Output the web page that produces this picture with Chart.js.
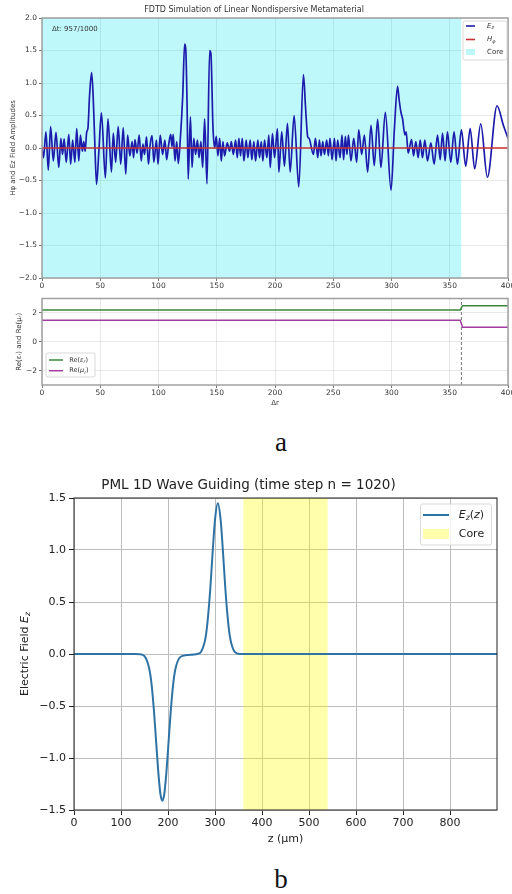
<!DOCTYPE html>
<html>
<head>
<meta charset="utf-8">
<script src="https://cdn.jsdelivr.net/npm/chart.js@4.4.1/dist/chart.umd.min.js"></script>
<style>
  html, body { margin: 0; padding: 0; background: #fff; overflow: hidden; }
  #page { position: relative; width: 512px; height: 894px; overflow: hidden; background: #fff; }
  canvas { position: absolute; left: 0; }
  .tag { position: absolute; left: 256px; width: 50px; text-align: center; font: 27px/27px "Liberation Serif", serif; color: #111; }
</style>
</head>
<body>
<div id="page">
  <canvas id="fdtd" width="550" height="292" style="top:0"></canvas>
  <canvas id="material" width="550" height="115" style="top:292px"></canvas>
  <div class="tag" style="top:429px">a</div>
  <canvas id="pml" width="571" height="376" style="top:470px"></canvas>
  <div class="tag" style="top:866px">b</div>
</div>
<script>
// top panel: field snapshot (extrema)
const ezX = [0, 1.3, 3.4, 5.4, 7.4, 9.7, 12, 14.4, 16.2, 17.6, 19, 20.8, 23, 24.6, 26.3, 28.2, 29.8, 31.6, 33, 34.6,
  35.8, 37, 38.4, 39.4, 40.8, 42.6, 43.9, 45.2, 46.8, 48.8, 51, 54.4, 56.6, 59.6, 61.2, 63.2, 65.4, 67.6, 69.7, 71.9, 73.5,
  75.4, 77.4, 78.6, 79.8, 81.6, 83.4, 85.2, 86.6, 88, 89.7, 91.4, 92.8, 94.5, 96, 98.2, 99.6, 101.5, 103.5, 105.5, 107,
  108.7, 110.5, 111.6, 112.6, 114.2, 115.6, 117, 118.6, 120.8, 122.4, 123.4, 124.5, 125.5, 127.4, 128.8, 130.3, 131.8, 133.4, 134.8, 136.4, 137.9,
  139.6, 141.6, 143.9, 145, 146.8, 148.2, 149.6, 151, 152.5, 153.9, 155.3, 156.7, 159, 161, 162.5, 164.2, 166.2, 167.6, 169, 170.4,
  171.9, 173.3, 175.3, 176.7, 178.7, 180.1, 181.9, 183.3, 185.3, 186.7, 188.2, 189.6, 191, 193, 194.7, 195.9, 197.8, 199.6, 202.1, 203.3,
  205.8, 208.1, 210.7, 213, 216.4, 220.4, 224.4, 226.3, 228.1, 229.2, 233, 234.7, 236.7, 238.1, 239.5, 241, 242.4, 244.4, 245.8, 247.2,
  249, 251, 252.4, 253.8, 255.8, 257.5, 258.9, 260.4, 261.8, 263, 265.2, 267.6, 270.1, 271.9, 274.4, 276.7, 279.5, 282.4, 285.2, 288.1,
  290.9, 294.7, 299.6, 302.5, 305.2, 306.5, 308.1, 309.5, 311.5, 312.6, 314.3, 317.2, 318.9, 320.9, 322.9, 324.6, 326.6, 328.6, 330.9, 333.8,
  336.6, 339.5, 341.8, 343.8, 346, 348, 350.9, 353.7, 356.6, 360, 363.7, 367.5, 371.4, 376.6, 382.3, 390.6, 396, 400];
const ezVals = [0, -0.15, 0.25, -0.34, 0.33, -0.2, 0.24, -0.3, 0.15, -0.1, 0.14, -0.22, 0.21, -0.25, 0.12, -0.22, 0.3, -0.2, 0.2, -0.05,
  0.1, -0.05, 0.25, 0.3, 0.8, 1.16, 0.8, 0.15, -0.56, -0.05, 0.54, -0.46, 0.45, -0.37, 0.23, -0.22, 0.33, -0.25, 0.31, -0.4, 0.2,
  -0.12, 0.1, -0.15, 0.13, -0.08, 0.2, -0.2, 0.06, -0.1, 0.17, -0.25, 0.05, 0.19, -0.22, 0.12, -0.25, 0.2, -0.1, 0.12, -0.18,
  0.05, 0.21, 0.02, 0.21, -0.2, 0.1, -0.24, 0.1, 0.8, 1.6, 1.52, 0.7, -0.48, 0.48, -0.3, 0.15, -0.1, 0.12, -0.15, 0.1, -0.3,
  0.45, -0.55, 1.5, 1.45, 0.3, 0, 0.18, -0.12, 0.15, -0.2, 0.1, -0.12, 0.08, -0.05, 0.1, -0.1, 0.12, -0.15, 0.15, -0.12,
  0.15, -0.2, 0.12, -0.15, 0.12, -0.18, 0.1, -0.2, 0.12, -0.15, 0.1, -0.2, 0.12, -0.15, 0.2, -0.3, 0.22, -0.15, 0.3, -0.37,
  0.25, -0.28, 0.38, -0.37, 0.5, -0.6, 1.13, 0.6, 0.17, 0.15, -0.1, 0.15, -0.15, 0.12, -0.12, 0.1, -0.1, 0.12, -0.12, 0.15,
  -0.18, 0.15, -0.2, 0.12, -0.15, 0.2, -0.18, 0.18, -0.1, 0.2, -0.2, 0.15, -0.22, 0.28, -0.1, 0.2, -0.37, 0.35, -0.27, 0.44,
  -0.3, 0.55, -0.65, 0.3, 0.95, 0.75, 0.55, 0.45, 0.2, 0.25, -0.08, 0.13, -0.12, 0.1, -0.15, 0.12, -0.15, 0.12, -0.2, 0.08,
  -0.25, 0.2, -0.18, 0.23, -0.2, 0.25, -0.22, 0.25, -0.25, 0.28, -0.28, 0.3, -0.32, 0.37, -0.45, 0.65, 0.35, 0.15];
const hPhiX = [0, 400];
const hPhiVals = [0, 0];
const fdtdCore = [0, 360];
const fdtdTicksX = [0, 50, 100, 150, 200, 250, 300, 350, 400];
const fdtdTicksY = [-2, -1.5, -1, -0.5, 0, 0.5, 1, 1.5, 2];

// material panel
const matX = [0, 359, 361, 400];
const epsVals = [2.2, 2.2, 2.5, 2.5];
const muVals = [1.5, 1.5, 1.0, 1.0];
const interfaceX = 360;
const matTicksY = [-2, 0, 2];

// bottom panel: PML wave guiding
const pmlZ = [0, 100, 130, 140, 150, 160, 165, 170, 175, 180, 184, 188, 192, 196, 201, 206, 211, 216, 226, 240,
  255, 262, 270, 280, 285, 290, 295, 300, 306, 312, 317, 322, 327, 332, 342, 352, 370, 500, 900];
const pmlEz = [0, 0, 0, -0.002, -0.02, -0.14, -0.29, -0.54, -0.86, -1.17, -1.35, -1.41, -1.35, -1.17, -0.86, -0.54, -0.29, -0.14, -0.03, -0.01,
  -0.005, 0, 0.02, 0.16, 0.35, 0.63, 0.98, 1.29, 1.45, 1.29, 0.98, 0.63, 0.35, 0.16, 0.02, 0, 0, 0, 0];
const pmlCore = [360, 540];
const pmlTicksX = [0, 100, 200, 300, 400, 500, 600, 700, 800];
const pmlTicksY = [-1.5, -1, -0.5, 0, 0.5, 1, 1.5];

const SANS = '"DejaVu Sans", sans-serif';
const pts = (xs, ys) => xs.map((x, i) => ({ x, y: ys[i] }));
const minus = v => (v < 0 ? '\u2212' : '') + Math.abs(v);
const fmt1 = v => (v < 0 ? '\u2212' : '') + Math.abs(v).toFixed(1);
const fixTicks = list => scale => { scale.ticks = list.map(value => ({ value })); };

function drawRich(ctx, parts, x, y, size, color) {
  let cx = x;
  ctx.fillStyle = color;
  ctx.textBaseline = 'middle';
  ctx.textAlign = 'left';
  for (const p of parts) {
    const s = p.sub ? size * 0.7 : size;
    ctx.font = (p.it ? 'italic ' : '') + s + 'px ' + SANS;
    ctx.fillText(p.t, cx, y + (p.sub ? size * 0.3 : 0));
    cx += ctx.measureText(p.t).width;
  }
  return cx - x;
}

function frame(color, width) {
  return {
    id: 'frame',
    afterDatasetsDraw(chart) {
      const { ctx, chartArea: a } = chart;
      ctx.save();
      ctx.strokeStyle = color;
      ctx.lineWidth = width;
      ctx.strokeRect(a.left, a.top, a.right - a.left, a.bottom - a.top);
      ctx.restore();
    }
  };
}

// legend box, placed like matplotlib's
function boxLegend(cfg) {
  return {
    id: 'boxLegend',
    afterDraw(chart) {
      const ctx = chart.ctx;
      ctx.save();
      ctx.beginPath();
      ctx.roundRect(cfg.x, cfg.y, cfg.w, cfg.h, 2);
      ctx.fillStyle = 'rgba(255,255,255,0.85)';
      ctx.fill();
      ctx.strokeStyle = '#cfcfcf';
      ctx.lineWidth = 0.8;
      ctx.stroke();
      cfg.rows.forEach((r, i) => {
        const ds = chart.data.datasets[r.ds];
        const y = cfg.rowY[i];
        if (r.patch) {
          ctx.fillStyle = ds.backgroundColor;
          ctx.fillRect(cfg.x0, y - cfg.ph / 2, cfg.x1 - cfg.x0, cfg.ph);
        } else {
          ctx.strokeStyle = ds.borderColor;
          ctx.lineWidth = cfg.lw;
          ctx.beginPath();
          ctx.moveTo(cfg.x0, y);
          ctx.lineTo(cfg.x1, y);
          ctx.stroke();
        }
        drawRich(ctx, r.parts, cfg.tx, y, cfg.size, cfg.color);
      });
      ctx.restore();
    }
  };
}

function note(parts, x, y, size, color) {
  return {
    id: 'note',
    afterDraw(chart) {
      const ctx = chart.ctx;
      ctx.save();
      drawRich(ctx, parts, x, y, size, color);
      ctx.restore();
    }
  };
}

function richYTitle(parts, x, size, color) {
  return {
    id: 'richYTitle',
    afterDraw(chart) {
      const { ctx, chartArea: a } = chart;
      ctx.save();
      let w = 0;
      for (const p of parts) {
        ctx.font = (p.it ? 'italic ' : '') + (p.sub ? size * 0.7 : size) + 'px ' + SANS;
        w += ctx.measureText(p.t).width;
      }
      ctx.translate(x, (a.top + a.bottom) / 2);
      ctx.rotate(-Math.PI / 2);
      drawRich(ctx, parts, -w / 2, 0, size, color);
      ctx.restore();
    }
  };
}

const base = { responsive: false, animation: false, devicePixelRatio: 1, elements: { point: { radius: 0 } } };
const smallTicks = { color: '#333', font: { family: SANS, size: 7.5 }, autoSkip: false, maxRotation: 0 };
const lightGrid = { color: 'rgba(0,0,0,0.09)', tickColor: '#777', tickLength: 3 };

new Chart(document.getElementById('fdtd'), {
  type: 'line',
  data: {
    datasets: [
      { label: 'Hphi', data: pts(hPhiX, hPhiVals), borderColor: '#cc3030', borderWidth: 1.4, order: 0 },
      { label: 'Ez', data: pts(ezX, ezVals), borderColor: '#1c1cac', borderWidth: 1.7, cubicInterpolationMode: 'monotone', order: 1 },
      { label: 'Core', data: fdtdCore.map(x => ({ x, y: 2 })), borderWidth: 0, backgroundColor: 'rgba(0,228,236,0.25)', fill: 'start', order: 2 }
    ]
  },
  options: {
    ...base,
    layout: { padding: { left: 0, right: 42, top: 0, bottom: 0 } },
    plugins: {
      legend: { display: false }, tooltip: { enabled: false },
      title: { display: true, text: 'FDTD Simulation of Linear Nondispersive Metamaterial', color: '#333',
        font: { family: SANS, size: 8, weight: 'normal' }, padding: { top: 5, bottom: 3.4 } }
    },
    scales: {
      x: { type: 'linear', min: 0, max: 400, afterBuildTicks: fixTicks(fdtdTicksX), afterFit: s => { s.height = 14; },
        grid: lightGrid, border: { display: false }, ticks: { ...smallTicks, padding: 1 } },
      y: { min: -2, max: 2, afterBuildTicks: fixTicks(fdtdTicksY), afterFit: s => { s.width = 42; },
        grid: lightGrid, border: { display: false }, ticks: { ...smallTicks, padding: 2, callback: fmt1 },
        title: { display: true, text: 'H\u03c6 and Ez Field Amplitudes', color: '#333', font: { family: SANS, size: 7 }, padding: { top: 8.5, bottom: 0 } } }
    }
  },
  plugins: [
    frame('#a0a0a0', 1.5),
    note([{ t: '\u0394t: 957/1000' }], 52, 29, 7, '#333'),
    boxLegend({ x: 463, y: 21, w: 44, h: 39, rowY: [26, 39.5, 52], x0: 466, x1: 475, ph: 6, lw: 1.6, tx: 487, size: 7, color: '#333',
      rows: [
        { ds: 1, parts: [{ t: 'E', it: true }, { t: 'z', it: true, sub: true }] },
        { ds: 0, parts: [{ t: 'H', it: true }, { t: '\u03c6', it: true, sub: true }] },
        { ds: 2, patch: true, parts: [{ t: 'Core' }] }
      ] })
  ]
});

new Chart(document.getElementById('material'), {
  type: 'line',
  data: {
    datasets: [
      { label: 'eps', data: pts(matX, epsVals), borderColor: '#3a873a', borderWidth: 1.5 },
      { label: 'mu', data: pts(matX, muVals), borderColor: '#a23ca2', borderWidth: 1.5 },
      { label: 'interface', data: [{ x: interfaceX, y: -3 }, { x: interfaceX, y: 3 }], borderColor: '#777', borderWidth: 1, borderDash: [3, 2] }
    ]
  },
  options: {
    ...base,
    layout: { padding: { left: 0, right: 42, top: 6, bottom: 0 } },
    plugins: { legend: { display: false }, tooltip: { enabled: false } },
    scales: {
      x: { type: 'linear', min: 0, max: 400, afterBuildTicks: fixTicks(fdtdTicksX), afterFit: s => { s.height = 22; },
        grid: lightGrid, border: { display: false }, ticks: { ...smallTicks, padding: 1 },
        title: { display: true, text: '\u0394r', color: '#333', font: { family: SANS, size: 7 }, padding: { top: 0, bottom: 0 } } },
      y: { min: -3, max: 3, afterBuildTicks: fixTicks(matTicksY), afterFit: s => { s.width = 42; },
        grid: lightGrid, border: { display: false }, ticks: { ...smallTicks, padding: 2, callback: minus },
        title: { display: true, text: 'Re(\u03b5\u1d63) and Re(\u03bc\u1d63)', color: '#333', font: { family: SANS, size: 7 }, padding: { top: 15.3, bottom: 0 } } }
    }
  },
  plugins: [
    frame('#a0a0a0', 1.5),
    boxLegend({ x: 46, y: 61, w: 49, h: 24, rowY: [68, 78.7], x0: 49, x1: 63, ph: 6, lw: 1.5, tx: 69.3, size: 6.5, color: '#333',
      rows: [
        { ds: 0, parts: [{ t: 'Re(' }, { t: '\u03b5', it: true }, { t: 'r', it: true, sub: true }, { t: ')' }] },
        { ds: 1, parts: [{ t: 'Re(' }, { t: '\u03bc', it: true }, { t: 'r', it: true, sub: true }, { t: ')' }] }
      ] })
  ]
});

const darkTicks = { color: '#222', font: { family: SANS, size: 11 }, autoSkip: false, maxRotation: 0 };
const greyGrid = { color: '#bdbdbd', lineWidth: 1, tickColor: '#222', tickLength: 5 };

new Chart(document.getElementById('pml'), {
  type: 'line',
  data: {
    datasets: [
      { label: 'Ez(z)', data: pts(pmlZ, pmlEz), borderColor: '#2f73a5', borderWidth: 2, cubicInterpolationMode: 'monotone', order: 0 },
      { label: 'Core', data: pmlCore.map(x => ({ x, y: 1.5 })), borderWidth: 0, backgroundColor: 'rgba(255,255,0,0.33)', fill: 'start', order: 1 }
    ]
  },
  options: {
    ...base,
    layout: { padding: { left: 0, right: 74, top: 0, bottom: 0 } },
    plugins: {
      legend: { display: false }, tooltip: { enabled: false },
      title: { display: true, text: 'PML 1D Wave Guiding (time step n = 1020)', color: '#222',
        font: { family: SANS, size: 13.5, weight: 'normal' }, padding: { top: 6.9, bottom: 4.9 } }
    },
    scales: {
      x: { type: 'linear', min: 0, max: 900, afterBuildTicks: fixTicks(pmlTicksX), afterFit: s => { s.height = 36; },
        grid: greyGrid, border: { display: false }, ticks: { ...darkTicks, padding: 2 },
        title: { display: true, text: 'z (\u03bcm)', color: '#222', font: { family: SANS, size: 11 }, padding: { top: 0, bottom: 0 } } },
      y: { min: -1.5, max: 1.5, afterBuildTicks: fixTicks(pmlTicksY), afterFit: s => { s.width = 74; },
        grid: greyGrid, border: { display: false }, ticks: { ...darkTicks, padding: 3, callback: fmt1 } }
    }
  },
  plugins: [
    frame('#222', 1),
    richYTitle([{ t: 'Electric Field ' }, { t: 'E', it: true }, { t: 'z', it: true, sub: true }], 25, 11, '#222'),
    boxLegend({ x: 420.5, y: 34, w: 71, h: 41, rowY: [45, 64], x0: 423, x1: 449, ph: 10, lw: 2, tx: 458.7, size: 11, color: '#222',
      rows: [
        { ds: 0, parts: [{ t: 'E', it: true }, { t: 'z', it: true, sub: true }, { t: '(' }, { t: 'z', it: true }, { t: ')' }] },
        { ds: 1, patch: true, parts: [{ t: 'Core' }] }
      ] })
  ]
});
</script>
</body>
</html>
